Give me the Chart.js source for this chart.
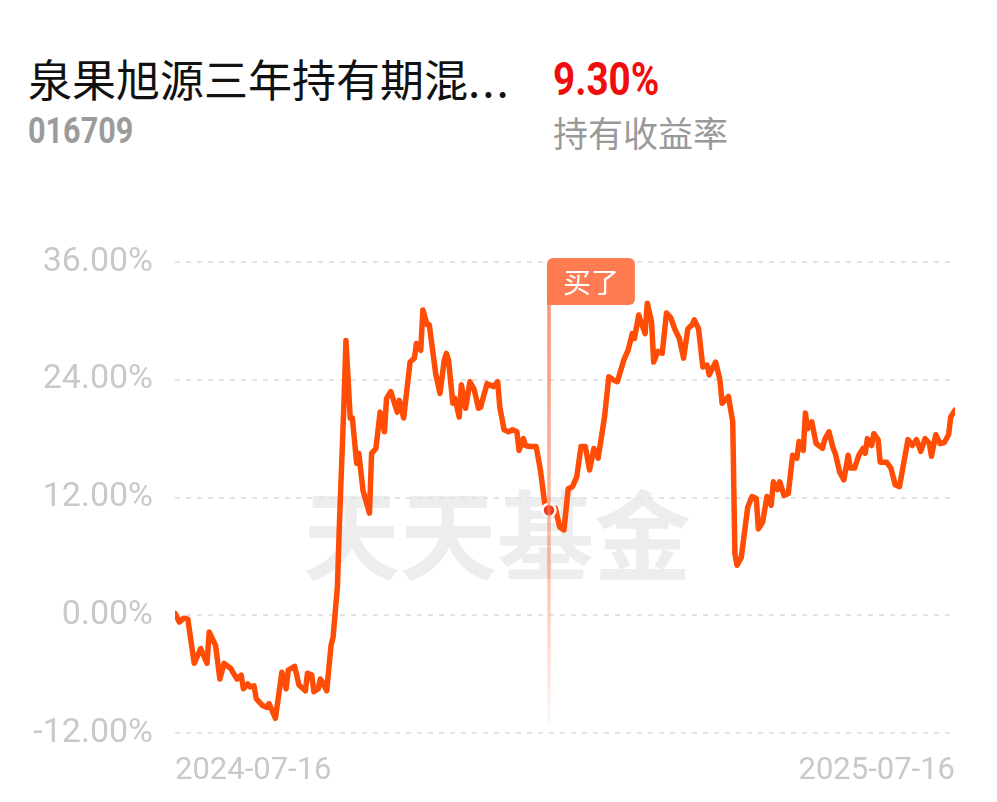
<!DOCTYPE html>
<html>
<head>
<meta charset="utf-8">
<script src="https://cdn.jsdelivr.net/npm/chart.js@4.4.1/dist/chart.umd.min.js"></script>
<style>
  body { margin: 0; background: #fff; width: 997px; height: 802px; overflow: hidden; position: relative; font-family: "Noto Sans CJK SC", "Noto Sans", sans-serif; }
  .t { position: absolute; white-space: nowrap; }
  #name { left: 28px; top: 56px; font-size: 44px; line-height: 44px; color: #111; }
  #name span { letter-spacing: 2px; }
  #code { left: 28px; top: 113px; font-size: 36px; line-height: 36px; color: #9b9b9b; font-weight: bold; font-family: Roboto, sans-serif; transform: scaleX(0.85); transform-origin: left top; }
  #rate { left: 553px; top: 56px; font-size: 46px; line-height: 46px; color: #f00d0d; font-weight: bold; font-family: Roboto, sans-serif; transform: scaleX(0.84); transform-origin: left top; }
  #rateLabel { left: 553px; top: 114px; font-size: 35px; line-height: 35px; color: #999; }
  #wrap { position: absolute; left: 0; top: 230px; width: 997px; height: 572px; }
</style>
</head>
<body>
<div class="t" id="name">泉果旭源三年持有期混<span>...</span></div>
<div class="t" id="code">016709</div>
<div class="t" id="rate">9.30%</div>
<div class="t" id="rateLabel">持有收益率</div>
<div id="wrap"><canvas id="cadre" width="997" height="572"></canvas></div>
<script>
// days since 2024-07-16
const days = [0, 2, 4, 6, 9, 12, 15, 16, 19, 21, 23, 26, 29, 31, 32, 34, 35, 37, 38, 41,
  43, 44, 46, 47, 50, 52, 53, 56, 58, 61, 62, 64, 65, 67, 68, 69, 71, 73, 74, 76,
  77, 79, 80, 82, 83, 85, 86, 88, 91, 92, 94, 96, 98, 99, 101, 104, 105, 107, 110, 112,
  113, 115, 116, 118, 119, 122, 124, 126, 127, 128, 130, 131, 133, 134, 136, 138, 140, 142, 143, 146,
  149, 151, 152, 154, 156, 158, 160, 161, 163, 164, 166, 169, 171, 173, 175, 178, 180, 182, 184, 186,
  188, 190, 192, 194, 196, 198, 201, 203, 205, 207, 210, 212, 214, 215, 217, 218, 220, 221, 223, 224,
  226, 228, 230, 232, 234, 236, 238, 240, 242, 243, 245, 247, 249, 250, 253, 255, 256, 259, 261, 262,
  263, 265, 268, 270, 272, 273, 275, 277, 279, 280, 282, 283, 285, 287, 289, 291, 292, 294, 295, 296,
  298, 300, 303, 304, 306, 308, 309, 311, 313, 315, 316, 318, 320, 322, 323, 324, 326, 327, 329, 330,
  333, 335, 337, 339, 340, 343, 345, 347, 349, 351, 353, 354, 356, 358, 360, 362, 363, 365];

// 持有收益率 (%)
const returns = [0.2, -0.7, -0.3, -0.4, -4.9, -3.4, -4.9, -1.7, -3.1, -6.5, -4.9, -5.4, -6.5, -6.1, -7.5, -7.0, -7.3, -7.2, -8.5, -9.2,
  -9.4, -9.0, -10.0, -10.5, -5.8, -7.5, -5.6, -5.2, -7.1, -7.7, -5.9, -6.1, -7.8, -7.5, -6.5, -6.8, -7.7, -3.1, -2.2, 2.9,
  9.7, 21.2, 28.0, 20.1, 20.1, 15.5, 16.5, 12.7, 10.4, 16.5, 17.0, 20.7, 18.7, 22.1, 22.8, 20.7, 21.9, 20.1, 25.8, 26.2,
  27.7, 27.0, 31.1, 29.6, 29.6, 24.6, 22.6, 26.0, 26.7, 26.0, 21.6, 22.1, 20.2, 23.5, 21.1, 23.8, 23.0, 21.1, 21.2, 23.6,
  23.3, 23.8, 21.2, 18.9, 18.7, 18.9, 18.7, 16.8, 18.0, 17.3, 17.2, 17.2, 14.8, 11.4, 10.7, 10.9, 9.0, 8.7, 12.9, 13.1,
  14.1, 17.2, 17.2, 14.8, 17.0, 16.0, 20.2, 24.3, 24.0, 23.8, 26.0, 27.0, 28.7, 28.2, 30.6, 29.9, 28.7, 31.8, 29.9, 25.8,
  26.9, 26.7, 30.8, 30.3, 29.1, 28.2, 26.2, 29.2, 29.6, 30.1, 29.2, 25.3, 25.5, 24.5, 25.8, 24.0, 21.6, 22.3, 19.7, 6.3,
  5.1, 5.9, 11.0, 12.1, 11.9, 8.8, 9.5, 12.1, 11.2, 13.6, 12.8, 13.6, 12.2, 12.4, 16.3, 16.0, 17.7, 16.8, 20.6, 19.0,
  19.7, 17.5, 17.0, 17.9, 18.7, 17.0, 16.5, 14.6, 13.8, 16.3, 15.0, 15.0, 16.3, 17.0, 16.5, 18.0, 17.3, 18.5, 17.9, 15.6,
  15.6, 15.0, 13.3, 13.1, 14.3, 17.9, 17.3, 17.9, 16.7, 18.0, 17.5, 16.2, 18.4, 17.5, 17.6, 18.4, 20.2, 20.9];

const yTicks = [-12, 0, 12, 24, 36];
const xTickDays = [0, 365];
const xTickLabels = ["2024-07-16", "2025-07-16"];

// 买入点
const buyDay = 175;
const buyValue = 10.7;
const buyLabel = "买了";

const watermark = {
  id: "watermark",
  beforeDraw(chart) {
    const ctx = chart.ctx;
    ctx.save();
    ctx.font = "bold 97px 'Noto Sans CJK SC'";
    ctx.fillStyle = "#ededed";
    ctx.textAlign = "center";
    ctx.textBaseline = "middle";
    ctx.fillText("天天基金", 497, 305);
    ctx.restore();
  }
};

const buyMarker = {
  id: "buyMarker",
  afterDatasetsDraw(chart) {
    const ctx = chart.ctx;
    const x = chart.scales.x.getPixelForValue(buyDay);
    const area = chart.chartArea;
    const boxTop = area.top - 4;
    const boxH = 47;
    const boxW = 88;

    // vertical line, fading toward the bottom
    let grad = ctx.createLinearGradient(0, boxTop + boxH, 0, area.bottom - 8);
    grad.addColorStop(0, "rgba(255,120,85,0.8)");
    grad.addColorStop(0.6, "rgba(255,120,85,0.5)");
    grad.addColorStop(1, "rgba(255,120,85,0.05)");
    ctx.save();
    ctx.strokeStyle = grad;
    ctx.lineWidth = 3.5;
    ctx.beginPath();
    ctx.moveTo(x, boxTop + boxH);
    ctx.lineTo(x, area.bottom - 8);
    ctx.stroke();

    // label box
    ctx.fillStyle = "#ff7b52";
    ctx.beginPath();
    ctx.roundRect(x - 2, boxTop, boxW, boxH, [6, 6, 6, 0]);
    ctx.fill();
    ctx.fillStyle = "#fff";
    ctx.font = "28px 'Noto Sans CJK SC'";
    ctx.textAlign = "center";
    ctx.textBaseline = "middle";
    ctx.fillText(buyLabel, x - 2 + boxW / 2, boxTop + boxH / 2 + 1);
    ctx.restore();
  }
};

let canvas = document.getElementById("cadre");
const ctx = canvas.getContext("2d");

const chart = new Chart(ctx, {
  type: "line",
  data: {
    datasets: [
      {
        label: "买入",
        data: [{ x: buyDay, y: buyValue }],
        showLine: false,
        pointRadius: 6.5,
        pointBackgroundColor: "#ea3a1f",
        pointBorderColor: "#fff",
        pointBorderWidth: 2.5,
        order: 0
      },
      {
        label: "持有收益率",
        data: days.map((d, i) => ({ x: d, y: returns[i] })),
        borderColor: "#ff4d05",
        borderWidth: 5.5,
        borderJoinStyle: "round",
        borderCapStyle: "round",
        pointRadius: 0,
        tension: 0,
        fill: false,
        order: 1
      }
    ]
  },
  options: {
    responsive: false,
    animation: false,
    layout: { padding: { top: 32, right: 42, left: 0, bottom: 0 } },
    plugins: { legend: { display: false }, tooltip: { enabled: false } },
    scales: {
      x: {
        type: "linear",
        min: 0,
        max: 365,
        grid: { display: false, drawTicks: false },
        border: { display: false },
        afterBuildTicks: (scale) => { scale.ticks = xTickDays.map(v => ({ value: v })); },
        afterFit: (scale) => { scale.height = 69; },
        ticks: {
          align: "inner",
          maxRotation: 0,
          padding: 20,
          color: "#c9c9c9",
          font: { family: "Roboto, sans-serif", size: 31 },
          callback: (v, i) => xTickLabels[i]
        }
      },
      y: {
        min: -12,
        max: 36,
        afterBuildTicks: (scale) => { scale.ticks = yTicks.map(v => ({ value: v })); },
        afterFit: (scale) => { scale.width = 175; scale.paddingTop = 0; scale.paddingBottom = 0; },
        grid: { color: "#e3e3e3", lineWidth: 2, drawTicks: false },
        border: { display: false, dash: [5, 6] },
        ticks: {
          padding: 22,
          color: "#c9c9c9",
          font: { family: "Roboto, sans-serif", size: 34 },
          callback: (v) => v.toFixed(2) + "%"
        }
      }
    }
  },
  plugins: [watermark, buyMarker]
});
</script>
</body>
</html>
